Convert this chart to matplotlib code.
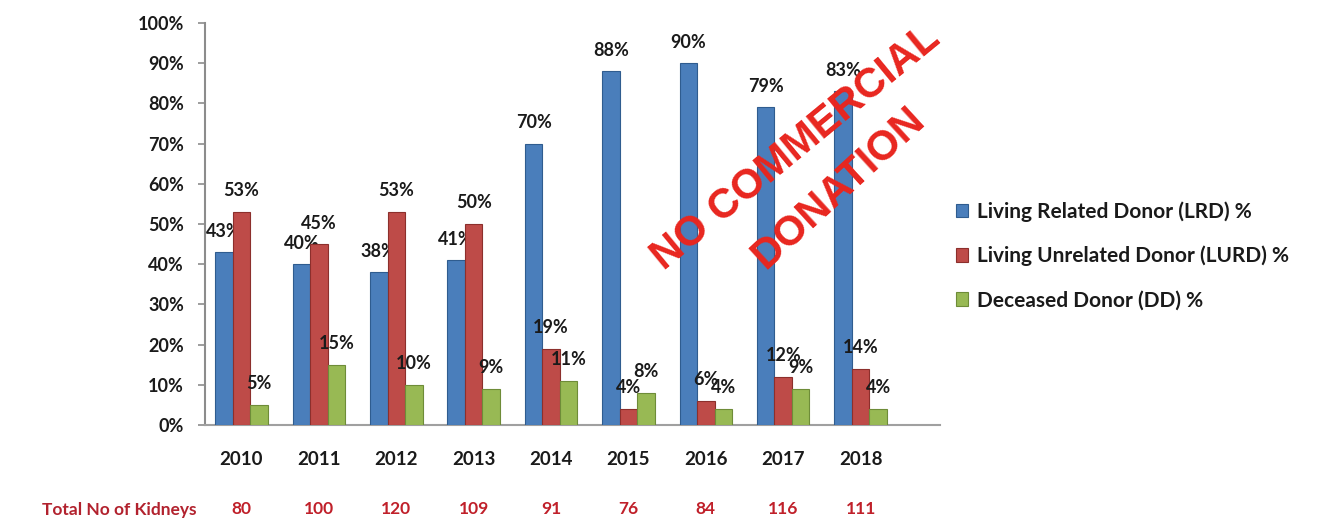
import matplotlib
matplotlib.use('Agg')
import matplotlib.pyplot as plt
import numpy as np

# Datos del grafico
years = ['2010', '2011', '2012', '2013', '2014', '2015', '2016', '2017', '2018']
lrd = [43, 40, 38, 41, 70, 88, 90, 79, 83]
lurd = [53, 45, 53, 50, 19, 4, 6, 12, 14]
dd = [5, 15, 10, 9, 11, 8, 4, 9, 4]
kidneys = [80, 100, 120, 109, 91, 76, 84, 116, 111]

series_names = ['Living Related Donor (LRD) %',
                'Living Unrelated Donor (LURD) %',
                'Deceased Donor (DD) %']
colors = ['#4A7EBB', '#BE4B48', '#98B954']
edges = ['#2F5C8F', '#8C2F2C', '#6E8C38']

plt.rcParams['font.family'] = ['Lato', 'DejaVu Sans']

fig = plt.figure(figsize=(13.43, 5.21), dpi=100)
ax = fig.add_axes([0.1526, 0.1843, 0.5473, 0.7716])

x = np.arange(len(years))
w = 0.226
for i, (vals, name) in enumerate(zip([lrd, lurd, dd], series_names)):
    pos = x + (i - 1) * w
    bars = ax.bar(pos, vals, w, color=colors[i], edgecolor=edges[i],
                  linewidth=0.8, label=name, zorder=3)
    for xb, v in zip(pos, vals):
        ax.annotate(str(v) + '%', (xb, v), xytext=(0, 9),
                    textcoords='offset points', ha='center', va='bottom',
                    fontsize=13, fontweight='bold', color='#1a1a1a')

ax.set_xlim(-0.472, 9.025)
ax.set_ylim(0, 100)
ax.set_yticks(range(0, 101, 10))
ax.set_yticklabels([str(v) + '%' for v in range(0, 101, 10)])
ax.set_xticks(x)
ax.set_xticklabels(years)

for s in ['top', 'right']:
    ax.spines[s].set_visible(False)
ax.spines['left'].set_color('#8c8c8c')
ax.spines['bottom'].set_color('#a0a0a0')
ax.spines['left'].set_linewidth(1.5)
ax.spines['bottom'].set_linewidth(1.5)
ax.tick_params(axis='y', direction='out', length=5, width=1.2,
               color='#8c8c8c', pad=10, labelsize=13)
ax.tick_params(axis='x', length=0, pad=19, labelsize=13.5)
for lab in ax.get_xticklabels() + ax.get_yticklabels():
    lab.set_fontweight('bold')
    lab.set_color('#1a1a1a')

# Fila de total de rinones
trans = ax.get_xaxis_transform()
fig.text(197 / 1343, 1 - 510 / 521, 'Total No of Kidneys', ha='right',
         va='center', fontsize=12.5, fontweight='bold', color='#B2222E')
for xi, k in zip(x, kidneys):
    ax.text(xi, -0.21, str(k), transform=trans, ha='center', va='center',
            fontsize=12.5, fontweight='bold', color='#C0202A')

leg = ax.legend(loc='center left', bbox_to_anchor=(0.704, 0.509),
                bbox_transform=fig.transFigure, frameon=False,
                fontsize=15, handlelength=0.6, handleheight=0.6,
                handletextpad=0.4, labelspacing=1.15, borderpad=0)
for t in leg.get_texts():
    t.set_fontweight('bold')
    t.set_color('#1a1a1a')

# Marca de agua
fig.text(796 / 1343, 1 - 148 / 521, 'NO COMMERCIAL', rotation=39.5,
         rotation_mode='anchor', ha='center', va='center', fontsize=30,
         fontweight='bold', color='#E8261F', family='Liberation Sans')
fig.text(838 / 1343, 1 - 188 / 521, 'DONATION', rotation=42.5,
         rotation_mode='anchor', ha='center', va='center', fontsize=30,
         fontweight='bold', color='#E8261F', family='Liberation Sans')

fig.savefig('out.png', dpi=100)
